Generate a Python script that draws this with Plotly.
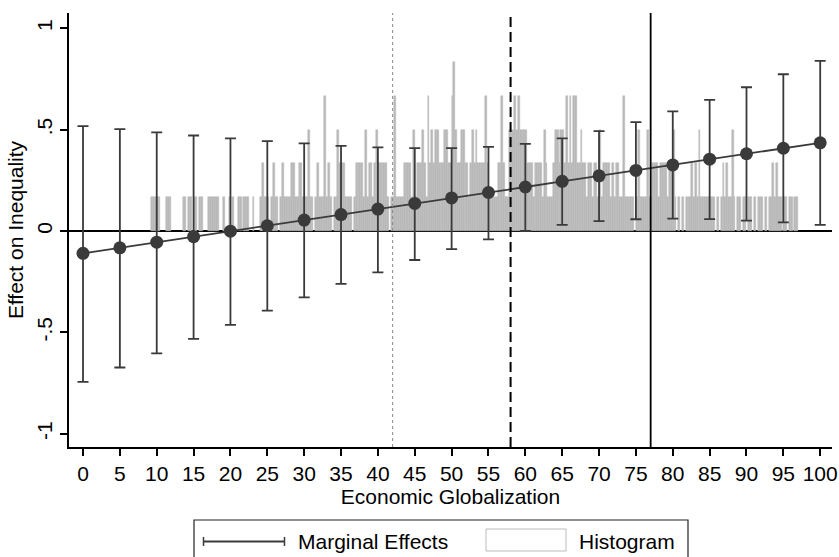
import plotly.graph_objects as go

# ---------------- data ----------------
me_x = list(range(0, 101, 5))
me_y = [-0.110, -0.083, -0.055, -0.028, -0.001, 0.026, 0.054, 0.081, 0.108, 0.136, 0.163,
        0.190, 0.217, 0.245, 0.272, 0.299, 0.326, 0.354, 0.381, 0.408, 0.435]
ci_upper = [0.517, 0.502, 0.486, 0.471, 0.457, 0.443, 0.432, 0.420, 0.412, 0.409, 0.409,
            0.415, 0.430, 0.457, 0.493, 0.537, 0.590, 0.647, 0.709, 0.773, 0.839]
ci_lower = [-0.744, -0.673, -0.603, -0.532, -0.463, -0.393, -0.327, -0.261, -0.204, -0.143, -0.089,
            -0.041, 0.000, 0.030, 0.049, 0.058, 0.061, 0.059, 0.051, 0.043, 0.030]

# histogram of Economic Globalization: counts per 0.25-wide bin starting at 9.0
hist_start = 9.0
hist_bin = 0.25
hist_counts = [
    0, 1, 1, 1, 1, 1, 0, 0, 0, 1, 1, 1, 0, 0, 0, 0, 0, 0, 1, 1,   # 9-14
    0, 1, 1, 0, 1, 1, 0, 1, 1, 0, 0, 0, 1, 1, 1, 1, 1, 1, 0, 0,   # 14-19
    1, 0, 0, 1, 0, 1, 0, 0, 1, 1, 0, 1, 1, 1, 0, 0, 1, 0, 0, 0,   # 19-24
    1, 2, 1, 1, 1, 0, 1, 2, 1, 1, 0, 1, 2, 1, 1, 1, 1, 2, 2, 1,   # 24-29
    1, 2, 2, 1, 1, 1, 3, 1, 1, 0, 1, 2, 1, 1, 1, 4, 1, 2, 1, 0,   # 29-34
    1, 1, 3, 2, 2, 2, 1, 1, 1, 1, 0, 1, 2, 2, 2, 2, 1, 3, 1, 2,   # 34-39
    2, 1, 2, 3, 2, 2, 2, 2, 2, 1, 0, 1, 1, 4, 1, 1, 1, 1, 2, 2,   # 39-44
    2, 2, 1, 3, 1, 2, 2, 2, 3, 2, 1, 4, 2, 3, 2, 3, 3, 2, 2, 2,   # 44-49
    3, 3, 2, 2, 4, 5, 3, 2, 2, 3, 3, 2, 2, 1, 2, 3, 2, 3, 2, 2,   # 49-54
    2, 2, 4, 2, 1, 1, 1, 1, 1, 2, 2, 4, 2, 1, 1, 3, 3, 3, 4, 3,   # 54-59
    4, 3, 3, 3, 3, 2, 2, 2, 1, 2, 2, 2, 2, 1, 3, 2, 1, 1, 1, 2,   # 59-64
    3, 3, 2, 3, 3, 2, 4, 2, 4, 2, 4, 4, 2, 2, 3, 2, 2, 1, 2, 2,   # 64-69
    1, 2, 2, 1, 3, 1, 2, 2, 2, 2, 1, 2, 1, 2, 2, 1, 1, 4, 1, 1,   # 69-74
    1, 1, 1, 0, 1, 3, 1, 1, 1, 1, 3, 1, 1, 2, 2, 2, 1, 2, 2, 2,   # 74-79
    2, 1, 2, 2, 3, 1, 0, 1, 0, 1, 0, 1, 1, 1, 2, 1, 2, 1, 3, 1,   # 79-84
    1, 1, 1, 1, 1, 1, 1, 0, 1, 0, 1, 2, 1, 2, 1, 1, 3, 1, 0, 1,   # 84-89
    1, 0, 1, 1, 0, 1, 1, 0, 1, 0, 1, 1, 1, 0, 1, 0, 1, 1, 2, 1,   # 89-94
    2, 1, 1, 0, 1, 1, 0, 1, 1, 0, 1, 1, 0, 0, 0, 0, 0, 0, 0, 0,   # 94-99
]

x_ticks = list(range(0, 101, 5))
y_tickvals = [-1, -0.5, 0, 0.5, 1]
y_ticktext = ["-1", "-.5", "0", ".5", "1"]

vline_dotted = 42
vline_dashed = 58
vline_solid = 77

x_range = [-1.9, 101.6]
y_range = [-1.065, 1.075]
hist_unit = 1 / 6  # height of one observation in y units

# ---------------- layout geometry ----------------
W, H = 839, 557
ML, MR, MT, MB = 69, 7, 13, 110
PW, PH = W - ML - MR, H - MT - MB


def px(xpix):
    return (xpix - ML) / PW


def py(ypix):
    return (H - MB - ypix) / PH


FONT = "Liberation Sans, Arial, Helvetica, sans-serif"
HIST_COL = "#b9b9b9"
ME_COL = "#3a3a3a"

hx, hy = [], []
for i, c in enumerate(hist_counts):
    if c > 0:
        hx.append(hist_start + (i + 0.5) * hist_bin)
        hy.append(c * hist_unit)

fig = go.Figure()

fig.add_trace(go.Bar(
    x=hx, y=hy, width=hist_bin,
    marker=dict(color=HIST_COL, line=dict(color=HIST_COL, width=0.5)),
    showlegend=False, hoverinfo="skip",
))

fig.add_trace(go.Scatter(
    x=me_x, y=me_y, mode="lines+markers",
    line=dict(color=ME_COL, width=1.8),
    marker=dict(color=ME_COL, size=13),
    error_y=dict(type="data", symmetric=False,
                 array=[u - m for u, m in zip(ci_upper, me_y)],
                 arrayminus=[m - l for m, l in zip(me_y, ci_lower)],
                 color=ME_COL, thickness=1.8, width=5.5),
    showlegend=False,
))

shapes = [
    dict(type="line", xref="paper", yref="y", x0=0, x1=1, y0=0, y1=0,
         line=dict(color="black", width=2), layer="below"),
    dict(type="line", xref="x", yref="paper", x0=vline_dotted, x1=vline_dotted, y0=0, y1=1,
         line=dict(color="#888888", width=1, dash="dot"), layer="above"),
    dict(type="line", xref="x", yref="paper", x0=vline_dashed, x1=vline_dashed, y0=0, y1=1,
         line=dict(color="black", width=2, dash="10px,5px"), layer="above"),
    dict(type="line", xref="x", yref="paper", x0=vline_solid, x1=vline_solid, y0=0, y1=1,
         line=dict(color="black", width=1.8), layer="above"),
    # legend box
    dict(type="rect", xref="paper", yref="paper", x0=px(194), x1=px(688), y0=py(520), y1=py(590),
         line=dict(color="#222222", width=1.2), fillcolor="white", layer="above"),
    # legend: marginal effects symbol
    dict(type="line", xref="paper", yref="paper", x0=px(203), x1=px(285), y0=py(541.5), y1=py(541.5),
         line=dict(color=ME_COL, width=1.8), layer="above"),
    dict(type="line", xref="paper", yref="paper", x0=px(203.5), x1=px(203.5), y0=py(537), y1=py(546),
         line=dict(color=ME_COL, width=1.5), layer="above"),
    dict(type="line", xref="paper", yref="paper", x0=px(284.5), x1=px(284.5), y0=py(537), y1=py(546),
         line=dict(color=ME_COL, width=1.5), layer="above"),
    # legend: histogram symbol
    dict(type="rect", xref="paper", yref="paper", x0=px(486), x1=px(566), y0=py(529), y1=py(551),
         line=dict(color="#bbbbbb", width=1), fillcolor="white", layer="above"),
]

annotations = [
    dict(text="Marginal Effects", xref="paper", yref="paper", x=px(296), y=py(541),
         xanchor="left", yanchor="middle", showarrow=False,
         font=dict(family=FONT, size=21, color="black")),
    dict(text="Histogram", xref="paper", yref="paper", x=px(577), y=py(541),
         xanchor="left", yanchor="middle", showarrow=False,
         font=dict(family=FONT, size=21, color="black")),
]

fig.update_layout(
    width=W, height=H,
    margin=dict(l=ML, r=MR, t=MT, b=MB, autoexpand=False),
    paper_bgcolor="white", plot_bgcolor="white",
    font=dict(family=FONT, size=21, color="black"),
    bargap=0,
    showlegend=False,
    xaxis=dict(range=x_range, tickvals=x_ticks, ticks="outside", ticklen=7, tickwidth=1.5,
               tickcolor="black", showline=True, linecolor="black", linewidth=1.5,
               showgrid=False, zeroline=False, tickfont=dict(size=21),
               title=dict(text="Economic Globalization", font=dict(size=21), standoff=4)),
    yaxis=dict(range=y_range, tickvals=y_tickvals, ticktext=y_ticktext, tickangle=-90,
               ticks="outside", ticklen=7, tickwidth=1.5, tickcolor="black",
               showline=True, linecolor="black", linewidth=1.5,
               showgrid=False, zeroline=False, tickfont=dict(size=21),
               title=dict(text="Effect on Inequality", font=dict(size=21), standoff=3)),
    shapes=shapes,
    annotations=annotations,
)

fig.write_html("out.html")
